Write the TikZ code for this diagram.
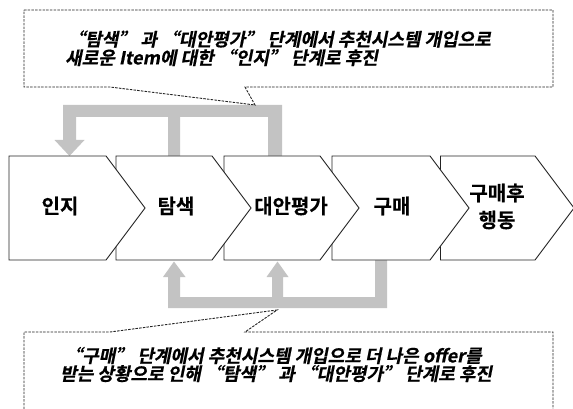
\documentclass[tikz,border=0pt]{standalone}
\usepackage{fontspec}
\newfontfamily\krb{Noto Sans CJK KR Bold}[FakeBold=0.4]
\newfontfamily\krbi{Noto Sans CJK KR Bold}[FakeSlant=0.2, FakeBold=0.6]
\newcommand\oq{{\addfontfeature{CharacterWidth=Full}“}}
\newcommand\cq{{\addfontfeature{CharacterWidth=Full}”}}
\definecolor{arrowgray}{RGB}{195,195,195}
\definecolor{edgecol}{RGB}{35,35,35}
\tikzset{
  chev/.style={draw=edgecol, line width=0.9pt, fill=white, line join=miter},
  stagelabel/.style={font=\krb\fontsize{20}{27}\selectfont, align=center, inner sep=0pt},
  backarrow/.style={fill=arrowgray, draw=none},
  callout/.style={draw=edgecol, line width=0.9pt, dash pattern=on 2.5pt off 1.2pt},
  callouttext/.style={font=\krbi\fontsize{18}{18}\selectfont, anchor=west, inner sep=0pt},
}
\begin{document}
\begin{tikzpicture}[x=1pt,y=-1pt]
\useasboundingbox (0,0) rectangle (573,409);
% feedback arrows
\fill[backarrow] (63,105) -- (282,105) -- (282,158) -- (268,158) -- (268,117) -- (180,117) -- (180,158) -- (168,158) -- (168,117) -- (76,117) -- (76,140) -- (84.5,140) -- (69.5,156) -- (54.5,140) -- (63,140) -- cycle;
\fill[backarrow] (168,308) -- (387,308) -- (387,258) -- (375,258) -- (375,297) -- (283,297) -- (283,277) -- (288.5,277) -- (277.5,261.5) -- (266.5,277) -- (272,277) -- (272,297) -- (180,297) -- (180,277) -- (185.5,277) -- (174,261.5) -- (163,277) -- (168,277) -- cycle;
% chevrons (right to left so the left one lies on top)
\foreach \L/\R in {440.5/535, 332/430, 224/320, 116/212, 9/106}
  \draw[chev] (\L,156) -- (\R,156) -- ({\R+39},208) -- (\R,260) -- (\L,260) -- cycle;
% stage labels
\node[stagelabel] (s1) at (60,206) {인지};
\node[stagelabel] (s2) at (176,206) {탐색};
\node[stagelabel] (s3) at (291,206) {대안평가};
\node[stagelabel] (s4) at (392,206) {구매};
\node[stagelabel] (s5) at (497,206.5) {구매후\\행동};
% callouts
\coordinate (toptip) at (255,105);
\coordinate (bottip) at (277,310);
\draw[callout] (24,10) -- (553,10) -- (553,87) -- (245,87) -- (toptip) -- (110,87) -- (24,87) -- cycle;
\draw[callout] (24,409) -- (24,332) -- (110,332) -- (bottip) -- (245,332) -- (553,332) -- (553,409);
\node[callouttext] (t1) at (67,39) {\oq 탐색\cq{} 과 \oq 대안평가\cq{} 단계에서 추천시스템 개입으로};
\node[callouttext] (t2) at (65,57.5) {새로운 Item에 대한 \oq 인지\cq{} 단계로 후진};
\node[callouttext] (b1) at (64,355.5) {\oq 구매\cq{} 단계에서 추천시스템 개입으로 더 나은 offer를};
\node[callouttext] (b2) at (60,373.5) {받는 상황으로 인해 \oq 탐색\cq{} 과 \oq 대안평가\cq{} 단계로 후진};
\end{tikzpicture}
\end{document}
